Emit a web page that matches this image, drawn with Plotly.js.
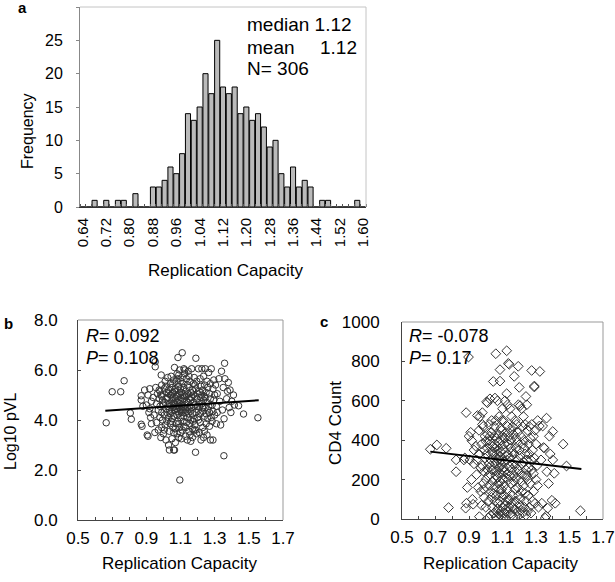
<!DOCTYPE html>
<html>
<head>
<meta charset="utf-8">
<script src="https://cdn.plot.ly/plotly-3.0.1.min.js"></script>
<style>
html,body{margin:0;padding:0;background:#fff;}
#chart{width:615px;height:582px;}
</style>
</head>
<body>
<div id="chart"></div>
<script>
// ---- Panel a: histogram of replication capacity ----
var binLabels = [0.64,0.66,0.68,0.70,0.72,0.74,0.76,0.78,0.80,0.82,0.84,0.86,0.88,0.90,0.92,0.94,0.96,0.98,1.00,1.02,1.04,1.06,1.08,1.10,1.12,1.14,1.16,1.18,1.20,1.22,1.24,1.26,1.28,1.30,1.32,1.34,1.36,1.38,1.40,1.42,1.44,1.46,1.48,1.50,1.52,1.54,1.56,1.58,1.60];
var binCounts = [0,0,1,0,1,0,1,1,0,2,0,0,3,3,4,6,5,8,14,13,15,20,17,25,18,17,18,14,15,13,14,12,9,10,5,3,6,3,4,3,0,1,1,0,0,0,0,1,0];
var histTickVals = [0.64,0.72,0.80,0.88,0.96,1.04,1.12,1.20,1.28,1.36,1.44,1.52,1.60];
var histTickText = ["0.64","0.72","0.80","0.88","0.96","1.04","1.12","1.20","1.28","1.36","1.44","1.52","1.60"];

// ---- Panel b: RC vs log10 pVL ----
var bX = [0.665,0.70,0.75,0.77,0.806,0.812,
0.87,0.87,0.87,0.875,0.88,0.89,
0.90,0.905,0.91,0.915,0.92,0.925,0.93,0.93,0.92,0.91,
0.952,0.952,0.94,0.945,0.95,0.955,0.96,0.96,0.965,0.97,0.97,0.975,0.975,
0.987,0.98,0.98,0.985,0.985,0.99,0.99,0.99,0.995,0.995,1.00,1.00,0.98,0.99,
1.005,1.005,1.01,1.01,1.01,1.015,1.015,1.02,1.02,1.02,1.005,1.015,1.02,
1.025,1.025,1.03,1.03,1.03,1.035,1.035,1.035,1.04,1.04,1.04,1.025,1.03,1.035,1.04,
1.045,1.045,1.05,1.05,1.05,1.055,1.055,1.055,1.06,1.06,1.06,1.065,1.045,1.05,1.055,1.06,1.06,1.045,1.05,1.055,
1.065,1.065,1.07,1.07,1.07,1.075,1.075,1.075,1.08,1.08,1.08,1.065,1.07,1.075,1.08,1.065,1.08,
1.085,1.085,1.085,1.09,1.09,1.09,1.09,1.095,1.095,1.095,1.096,1.10,1.10,1.10,1.10,1.085,1.09,1.095,1.085,1.09,1.095,1.10,1.10,1.085,1.09,
1.11,1.105,1.105,1.11,1.11,1.115,1.115,1.115,1.12,1.12,1.12,1.105,1.11,1.115,1.12,1.105,1.12,1.11,
1.125,1.125,1.13,1.13,1.13,1.135,1.135,1.135,1.14,1.14,1.14,1.125,1.13,1.135,1.14,1.125,1.13,
1.145,1.145,1.15,1.15,1.15,1.155,1.155,1.155,1.16,1.16,1.16,1.145,1.15,1.155,1.16,1.145,1.15,1.16,
1.165,1.165,1.17,1.17,1.17,1.175,1.175,1.175,1.18,1.18,1.18,1.165,1.17,1.175,
1.19,1.185,1.185,1.19,1.19,1.188,1.195,1.195,1.195,1.20,1.20,1.185,1.19,1.20,1.185,
1.205,1.205,1.21,1.21,1.21,1.215,1.215,1.215,1.22,1.22,1.22,1.205,1.21,
1.225,1.225,1.23,1.23,1.23,1.235,1.235,1.235,1.24,1.24,1.24,1.225,1.23,1.24,
1.245,1.245,1.25,1.25,1.25,1.255,1.255,1.255,1.26,1.26,1.245,1.26,
1.265,1.265,1.27,1.27,1.27,1.275,1.275,1.275,1.28,
1.28,1.285,1.285,1.29,1.29,1.29,1.295,1.295,1.30,1.30,
1.305,1.31,1.31,1.315,1.315,
1.325,1.33,1.335,
1.34,1.345,1.35,1.354,1.355,1.358,
1.36,1.37,1.375,
1.38,1.385,1.39,1.395,
1.40,1.41,1.415,
1.44,1.469,1.553];
var bY = [3.89,5.13,5.13,5.57,4.28,4.03,
4.97,4.80,3.83,3.75,4.55,5.20,
4.60,3.40,3.35,4.30,5.25,4.10,3.85,4.75,4.45,5.00,
6.13,6.33,4.90,4.20,3.50,5.30,4.65,3.90,5.05,4.40,3.60,4.85,5.20,
5.80,4.10,4.55,3.30,5.00,4.30,3.70,5.40,4.80,4.00,3.45,4.60,5.15,4.95,
5.25,4.20,3.80,4.70,5.55,3.20,4.45,5.10,3.95,4.85,3.60,5.35,4.30,
5.70,4.55,3.00,4.10,5.20,2.80,4.65,3.55,5.45,4.25,3.85,4.90,5.05,4.40,5.00,
5.75,4.35,3.25,4.80,5.30,3.70,4.50,5.10,4.15,2.80,5.60,2.80,3.95,4.60,4.90,3.50,4.70,5.00,4.05,5.45,
6.10,4.40,3.10,4.85,5.25,3.85,4.55,5.55,4.20,3.45,5.00,4.65,3.65,4.95,5.85,5.15,4.45,
6.50,4.70,3.95,5.35,4.25,3.30,5.80,4.55,3.70,5.05,1.60,4.90,4.10,5.55,3.50,5.20,4.80,6.00,4.35,3.85,4.65,5.25,4.40,5.65,4.50,
6.69,5.10,4.30,3.60,4.75,5.45,3.95,4.50,6.05,4.15,5.00,3.25,5.70,4.85,3.75,4.60,5.30,4.40,
6.00,4.60,3.35,5.15,4.30,5.65,3.90,4.75,4.10,5.40,3.20,4.95,3.70,5.00,4.50,5.85,4.40,
5.95,4.25,3.55,4.85,5.30,3.85,4.55,5.55,4.00,3.15,5.10,4.70,4.40,3.40,4.80,5.05,5.75,4.35,
6.05,4.50,3.65,5.20,4.25,5.45,3.95,4.70,4.05,5.70,3.60,4.90,3.30,5.00,
6.47,4.60,3.80,5.25,4.30,2.71,4.85,3.45,5.55,4.10,5.05,4.95,3.60,4.55,5.40,
6.05,4.40,3.50,5.15,4.70,3.90,5.65,4.25,4.90,3.20,5.35,4.00,4.55,
6.05,4.65,3.70,5.20,4.35,5.75,3.30,4.80,4.15,5.40,3.55,5.00,4.50,4.95,
6.05,4.50,3.85,5.10,4.25,5.55,3.40,4.70,4.05,5.30,4.90,4.40,
5.90,4.55,3.75,5.05,4.30,3.20,4.85,5.45,4.10,
6.05,4.60,3.95,5.25,4.35,3.20,4.80,5.60,4.20,5.00,
5.40,4.55,3.85,5.05,4.30,
5.65,4.75,3.80,
5.95,4.40,5.30,2.57,4.05,6.27,
5.65,4.85,5.15,
5.50,4.50,5.20,4.30,
4.75,5.00,4.60,
4.57,4.24,4.09];
var bLineX = [0.66, 1.558];
var bLineY = [4.37, 4.79];

// ---- Panel c: RC vs CD4 count ----
var cX = [0.669,0.708,0.764,0.778,0.823,0.823,
0.883,0.87,0.875,0.88,0.885,0.89,
0.897,0.90,0.905,0.91,0.917,0.92,0.925,0.93,0.93,0.915,
0.962,0.94,0.945,0.95,0.955,0.96,0.96,0.965,0.97,0.97,0.975,0.975,0.945,
0.98,0.98,0.985,0.985,0.99,0.99,0.99,0.995,0.995,1.00,1.00,0.98,0.99,1.00,
1.005,1.01,1.01,1.01,1.015,1.015,1.02,1.02,1.02,1.005,1.015,1.02,1.01,
1.025,1.025,1.03,1.03,1.03,1.035,1.035,1.035,1.04,1.04,1.04,1.025,1.03,1.035,1.04,
1.045,1.045,1.05,1.05,1.05,1.055,1.055,1.055,1.06,1.06,1.06,1.06,1.045,1.05,1.055,1.045,1.05,1.055,1.06,1.06,
1.065,1.065,1.07,1.07,1.07,1.075,1.075,1.075,1.08,1.08,1.08,1.065,1.07,1.075,1.08,1.065,1.08,
1.085,1.085,1.085,1.09,1.09,1.09,1.09,1.095,1.095,1.095,1.10,1.10,1.10,1.10,1.085,1.09,1.095,1.085,1.09,1.095,1.10,1.085,1.09,1.10,1.095,
1.105,1.105,1.11,1.11,1.11,1.115,1.115,1.115,1.12,1.12,1.12,1.105,1.11,1.115,1.12,1.105,1.11,1.12,
1.125,1.125,1.13,1.13,1.13,1.135,1.135,1.135,1.14,1.14,1.14,1.125,1.13,1.135,1.14,1.125,1.13,
1.145,1.145,1.15,1.15,1.15,1.155,1.155,1.155,1.16,1.16,1.16,1.145,1.15,1.155,1.16,1.145,1.15,1.16,
1.17,1.165,1.165,1.17,1.17,1.175,1.175,1.175,1.18,1.18,1.18,1.165,1.17,1.18,
1.194,1.20,1.185,1.185,1.19,1.19,1.19,1.195,1.195,1.20,1.20,1.185,1.19,1.195,1.20,
1.205,1.205,1.21,1.21,1.21,1.215,1.215,1.215,1.22,1.22,1.22,1.205,1.21,
1.225,1.225,1.23,1.23,1.23,1.235,1.235,1.235,1.24,1.24,1.24,1.225,1.23,1.24,
1.245,1.245,1.25,1.25,1.25,1.255,1.255,1.255,1.26,1.26,1.245,1.26,
1.274,1.265,1.265,1.27,1.27,1.275,1.275,1.28,1.28,
1.29,1.29,1.285,1.285,1.29,1.295,1.295,1.30,1.30,1.285,
1.305,1.31,1.31,1.315,1.32,
1.323,1.33,1.335,
1.34,1.345,1.35,1.355,1.36,1.363,
1.365,1.37,1.375,
1.38,1.385,1.40,1.395,
1.409,1.40,1.415,
1.462,1.482,1.565];
var cY = [354,376,359,58,300,240,
540,300,310,55,80,160,
822,420,300,440,397,100,75,350,280,200,
12,370,225,525,160,330,450,520,260,140,380,70,300,
540,480,470,180,350,110,240,420,310,395,60,270,150,200,
595,590,360,430,5,220,480,280,170,330,90,400,250,
610,380,20,300,140,500,250,440,190,340,60,420,270,110,370,
698,330,420,160,30,614,280,380,839,220,40,500,250,360,90,130,470,200,310,10,
410,240,600,350,50,180,430,300,25,260,520,120,210,80,390,330,150,
758,700,320,460,230,40,280,370,150,10,560,250,420,60,190,340,500,90,130,300,200,20,400,110,450,
500,260,30,380,170,600,290,70,440,210,50,350,120,410,320,5,240,90,
854,636,330,40,470,790,200,380,785,270,60,150,580,100,420,300,230,
560,310,30,400,180,520,250,80,470,340,120,220,450,20,280,100,360,60,
724,430,220,50,330,500,150,270,410,90,360,10,190,240,
775,668,480,300,40,390,160,580,250,350,70,210,440,120,20,
575,320,45,420,230,560,140,280,470,30,380,100,190,
520,290,60,400,220,480,130,330,622,250,20,170,360,90,
580,300,40,450,200,380,120,260,470,60,220,330,
754,410,180,300,30,250,480,90,350,
675,670,420,230,310,80,450,200,380,140,
270,500,170,60,472,
749,300,80,
472,363,360,5,15,512,
240,55,180,
420,330,444,95,
232,300,80,
380,269,42];
var cLineX = [0.669, 1.571];
var cLineY = [342, 254];

var FONT = "Liberation Sans, Arial, Helvetica, sans-serif";

var traces = [
  {type:'bar', x:binLabels, y:binCounts, xaxis:'x', yaxis:'y',
   width:0.0175, marker:{color:'#bababa', line:{color:'#000', width:1}}},
  {type:'scatter', mode:'markers', x:bX, y:bY, xaxis:'x2', yaxis:'y2',
   marker:{symbol:'circle-open', size:6.5, color:'#333', line:{width:1, color:'#333'}}},
  {type:'scatter', mode:'lines', x:bLineX, y:bLineY, xaxis:'x2', yaxis:'y2',
   line:{color:'#000', width:2}},
  {type:'scatter', mode:'markers', x:cX, y:cY, xaxis:'x3', yaxis:'y3',
   marker:{symbol:'diamond-open', size:7.5, color:'#333', line:{width:1, color:'#333'}}},
  {type:'scatter', mode:'lines', x:cLineX, y:cLineY, xaxis:'x3', yaxis:'y3',
   line:{color:'#000', width:2}}
];

function pxX(p){return p/615;}
function pxY(p){return 1-p/582;}

var tickFontSmall = {family:FONT, size:15, color:'#000'};
var tickFont = {family:FONT, size:17, color:'#000'};

var layout = {
  width:615, height:582,
  margin:{l:0,r:0,t:0,b:0},
  paper_bgcolor:'#fff', plot_bgcolor:'#fff',
  showlegend:false,
  font:{family:FONT, color:'#000'},
  xaxis:{domain:[pxX(80),pxX(366)], anchor:'y', range:[0.63,1.61], showgrid:false, zeroline:false,
    showline:true, linecolor:'#333', linewidth:1,
    tickvals:histTickVals, ticktext:histTickText, tickangle:-90, ticks:'',
    tickfont:tickFontSmall, ticklabelstandoff:4,
    minor:{tick0:0.63, dtick:0.02, ticks:'inside', ticklen:3, tickcolor:'#555', showgrid:false}},
  yaxis:{domain:[pxY(207),pxY(7)], anchor:'x', range:[0,30], dtick:5, showgrid:false, zeroline:false,
    showline:true, linecolor:'#888', linewidth:1, ticks:'outside', ticklen:3, tickcolor:'#888',
    tickfont:{family:FONT, size:16, color:'#000'}, ticklabelstandoff:10},
  xaxis2:{domain:[pxX(78),pxX(283)], anchor:'y2', range:[0.5,1.7], dtick:0.2, tick0:0.5, tickformat:'.1f',
    showgrid:false, zeroline:false, showline:true, linecolor:'#444', linewidth:1,
    ticks:'inside', ticklen:3, tickcolor:'#444', tickfont:tickFont, ticklabelstandoff:3,
    minor:{dtick:0.1, tick0:0.5, ticks:'inside', ticklen:3, tickcolor:'#444', showgrid:false}},
  yaxis2:{domain:[pxY(520),pxY(320)], anchor:'x2', range:[0,8], dtick:2, tickformat:'.1f',
    showgrid:false, zeroline:false, showline:true, linecolor:'#444', linewidth:1,
    ticks:'inside', ticklen:3, tickcolor:'#444', tickfont:tickFont, ticklabelstandoff:16},
  xaxis3:{domain:[pxX(402),pxX(603)], anchor:'y3', range:[0.5,1.7], dtick:0.2, tick0:0.5, tickformat:'.1f',
    showgrid:false, zeroline:false, showline:true, linecolor:'#444', linewidth:1,
    ticks:'inside', ticklen:3, tickcolor:'#444', tickfont:tickFont, ticklabelstandoff:3,
    minor:{dtick:0.1, tick0:0.5, ticks:'inside', ticklen:3, tickcolor:'#444', showgrid:false}},
  yaxis3:{domain:[pxY(519),pxY(322)], anchor:'x3', range:[0,1000], dtick:200,
    showgrid:false, zeroline:false, showline:true, linecolor:'#444', linewidth:1,
    ticks:'inside', ticklen:3, tickcolor:'#444', tickfont:tickFont, ticklabelstandoff:18},
  shapes:[
    {type:'line', xref:'x domain', yref:'y domain', x0:0, x1:1, y0:1, y1:1, line:{color:'#c4c4c4', width:1}},
    {type:'line', xref:'x domain', yref:'y domain', x0:1, x1:1, y0:0, y1:1, line:{color:'#c4c4c4', width:1}},
    {type:'line', xref:'x2 domain', yref:'y2 domain', x0:0, x1:1, y0:1, y1:1, line:{color:'#999', width:1}},
    {type:'line', xref:'x2 domain', yref:'y2 domain', x0:1, x1:1, y0:0, y1:1, line:{color:'#999', width:1}},
    {type:'line', xref:'x3 domain', yref:'y3 domain', x0:0, x1:1, y0:1, y1:1, line:{color:'#999', width:1}},
    {type:'line', xref:'x3 domain', yref:'y3 domain', x0:1, x1:1, y0:0, y1:1, line:{color:'#999', width:1}}
  ],
  annotations:[]
};

function ann(text, x, y, opts){
  var a = {text:text, xref:'paper', yref:'paper', x:pxX(x), y:pxY(y), showarrow:false,
    xanchor:'left', yanchor:'middle', font:{family:FONT, size:18, color:'#000'}};
  for (var k in (opts||{})) a[k] = opts[k];
  layout.annotations.push(a);
}
var F19 = {family:FONT, size:19, color:'#000'};
var F17 = {family:FONT, size:17, color:'#000'};
// panel letters
ann('<b>a</b>', 22, 8, {xanchor:'center', font:{family:FONT, size:15, color:'#000'}});
ann('<b>b</b>', 8.5, 323, {xanchor:'center', font:{family:FONT, size:15, color:'#000'}});
ann('<b>c</b>', 324.5, 321, {xanchor:'center', font:{family:FONT, size:15, color:'#000'}});
// histogram stats
ann('median 1.12', 245, 25, {font:F19});
ann('mean', 245, 47, {font:F19});
ann('1.12', 359, 47, {xanchor:'right', font:F19});
ann('N= 306', 245, 68, {font:F19});
// correlation stats
ann('<i>R</i>= 0.092', 84, 336);
ann('<i>P</i>= 0.108', 84, 358);
ann('<i>R</i>= -0.078', 407, 336);
ann('<i>P</i>= 0.17', 407, 358);
// axis titles
ann('Frequency', 27, 131, {xanchor:'center', textangle:-90, font:{family:FONT, size:16, color:'#000'}});
ann('Replication Capacity', 225, 270, {xanchor:'center', font:F17});
ann('Log10 pVL', 10, 431, {xanchor:'center', textangle:-90, font:{family:FONT, size:16, color:'#000'}});
ann('Replication Capacity', 179, 563, {xanchor:'center', font:F17});
ann('CD4 Count', 335, 423, {xanchor:'center', textangle:-90, font:F17});
ann('Replication Capacity', 501, 563, {xanchor:'center', font:F17});

Plotly.newPlot('chart', traces, layout, {displayModeBar:false, staticPlot:true});
</script>
</body>
</html>
